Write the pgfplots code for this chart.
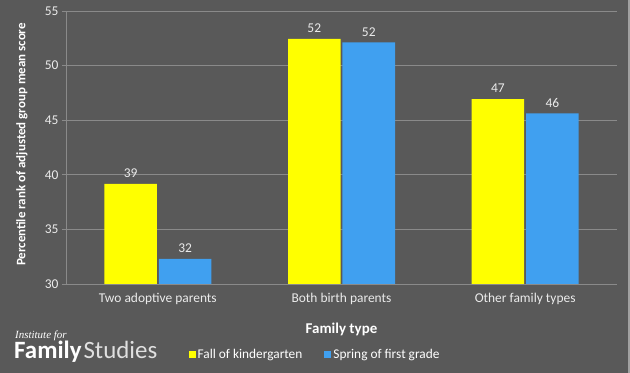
\documentclass[border=0pt]{standalone}
\usepackage{pgfplots}
\pgfplotsset{compat=1.18}
\usepackage{fontspec}
\setmainfont{Carlito}
\newfontfamily\logoserif{Liberation Serif}
\definecolor{bg}{HTML}{595959}
\definecolor{gridc}{HTML}{8A8A8A}
\definecolor{yel}{HTML}{FFFF00}
\definecolor{blu}{HTML}{40A0F0}
\begin{document}
\begin{tikzpicture}
\fill[bg] (0,0) rectangle (630bp,373bp);
\fill[gridc!80] (628bp,0) rectangle (630bp,373bp);
\useasboundingbox (0,0) rectangle (630bp,373bp);
\begin{axis}[
  at={(66bp,89bp)}, anchor=south west,
  width=551bp, height=273bp, scale only axis,
  ybar, bar width=52.5bp,
  xmin=-0.5, xmax=2.5, ymin=30, ymax=55,
  ytick={30,35,...,55},
  xtick={0,1,2},
  xticklabels={Two adoptive parents, Both birth parents, Other family types},
  x tick style={draw=none},
  extra x ticks={-0.5,0.5,1.5,2.5},
  extra x tick labels={},
  extra x tick style={grid=none, major tick length=4bp, tick align=outside, tick style={draw=gridc, line width=0.8pt}},
  y tick style={draw=gridc, line width=0.8pt},
  major tick length=4bp, tick align=outside,
  ymajorgrids, grid style={draw=gridc, line width=0.8pt},
  axis x line*=bottom, axis y line*=left,
  axis line style={draw=gridc, line width=0.8pt, -},
  ticklabel style={font=\fontsize{13.5}{15}\selectfont, text=white!92!black},
  /pgf/number format/assume math mode=true,
  xticklabel style={yshift=-2bp},
  xlabel={\textbf{Family type}},
  xlabel style={font=\fontsize{15}{17}\selectfont, text=white, at={(axis description cs:0.5,-0.165)}, anchor=center},
  ylabel={\textbf{Percentile rank of adjusted group mean score}},
  ylabel style={font=\fontsize{13}{15}\selectfont, text=white, at={(axis description cs:-0.08,0.511)}, anchor=center},
  nodes near coords,
  nodes near coords style={yshift=2.5bp, font=\fontsize{13.5}{15}\selectfont, text=white!92!black, /pgf/number format/fixed, /pgf/number format/precision=0, /pgf/number format/assume math mode=true},
  legend style={at={(axis description cs:0.452,-0.26)}, anchor=center, draw=none, fill=none, legend columns=2, font=\fontsize{13.4}{15}\selectfont, text=white, /tikz/every even column/.append style={column sep=20bp}},
  legend image code/.code={\path[#1,draw=none] (0bp,-3.5bp) rectangle (7bp,3.5bp);},
]
\addplot[fill=yel, draw=none] coordinates {(0,39.16) (1,52.45) (2,46.94)};
\addplot[fill=blu, draw=none] coordinates {(0,32.29) (1,52.13) (2,45.63)};
\legend{Fall of kindergarten, Spring of first grade}
\end{axis}
\node[anchor=base west, text=white, inner sep=0] at (15bp,35bp) {\logoserif\itshape\fontsize{11}{12}\selectfont Institute for};
\node[anchor=base west, inner sep=0] at (14bp,15bp) {\fontsize{25}{28}\selectfont\textcolor{white}{\textbf{Family}}\hspace{2bp}\textcolor{white!88!black}{Studies}};
\end{tikzpicture}
\end{document}
